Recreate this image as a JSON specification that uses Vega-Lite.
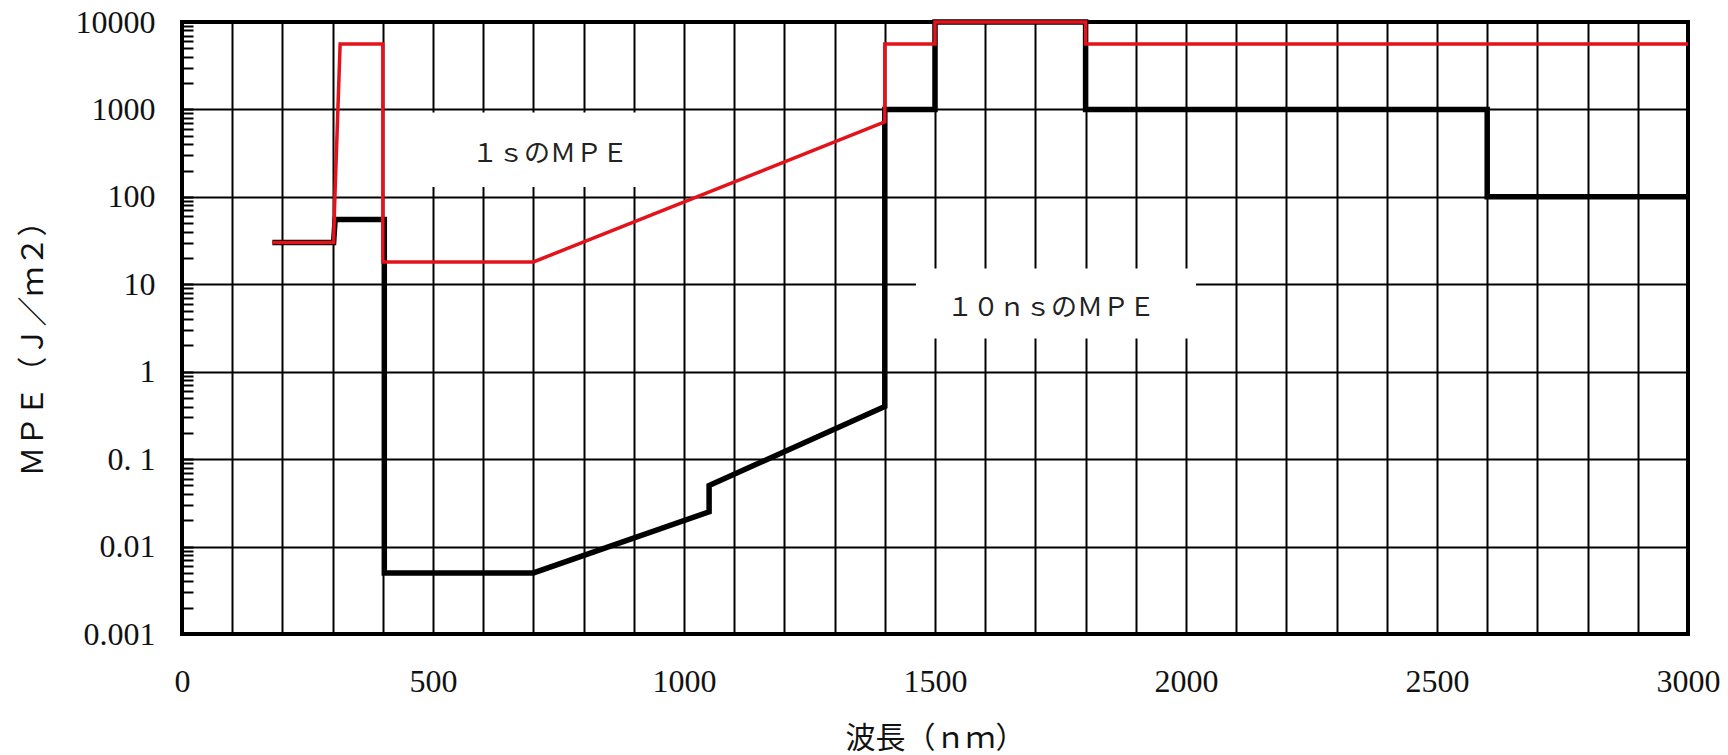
{
  "$schema": "https://vega.github.io/schema/vega-lite/v6.json",
  "width": 1506,
  "height": 612,
  "autosize": {"type": "none"},
  "padding": {"left": 182, "top": 22, "right": 40, "bottom": 121},
  "background": "white",
  "config": {
    "view": {"stroke": "black", "strokeWidth": 4},
    "axis": {"gridColor": "black", "gridWidth": 2, "gridOpacity": 1, "domain": false, "labelColor": "#111", "titleColor": "#111", "labelOverlap": false, "labelBound": false, "labelFlush": false}
  },
  "datasets": {
    "boxes": [
      {"x": 455, "x2": 955, "y": 130, "y2": 920},
      {"x": 1462, "x2": 2020, "y": 2.4, "y2": 15.2}
    ],
    "black": [
      {"i": 1, "x": 180, "y": 30},
      {"i": 2, "x": 302, "y": 30},
      {"i": 3, "x": 305, "y": 55},
      {"i": 4, "x": 403, "y": 55},
      {"i": 5, "x": 403, "y": 0.005},
      {"i": 6, "x": 700, "y": 0.005},
      {"i": 7, "x": 1050, "y": 0.025},
      {"i": 8, "x": 1050, "y": 0.05},
      {"i": 9, "x": 1400, "y": 0.4},
      {"i": 10, "x": 1400, "y": 1000},
      {"i": 11, "x": 1500, "y": 1000},
      {"i": 12, "x": 1500, "y": 10000},
      {"i": 13, "x": 1800, "y": 10000},
      {"i": 14, "x": 1800, "y": 1000},
      {"i": 15, "x": 2600, "y": 1000},
      {"i": 16, "x": 2600, "y": 100},
      {"i": 17, "x": 3000, "y": 100}
    ],
    "red": [
      {"i": 1, "x": 180, "y": 30},
      {"i": 2, "x": 302, "y": 30},
      {"i": 3, "x": 304, "y": 80},
      {"i": 4, "x": 315, "y": 5600},
      {"i": 5, "x": 400, "y": 5600},
      {"i": 6, "x": 400, "y": 18},
      {"i": 7, "x": 700, "y": 18},
      {"i": 8, "x": 1400, "y": 720},
      {"i": 9, "x": 1400, "y": 5600},
      {"i": 10, "x": 1500, "y": 5600},
      {"i": 11, "x": 1500, "y": 10000},
      {"i": 12, "x": 1800, "y": 10000},
      {"i": 13, "x": 1800, "y": 5600},
      {"i": 14, "x": 3000, "y": 5600}
    ],
    "labels": [
      {"x": 733, "y": 309, "text": "１ｓのＭＰＥ"},
      {"x": 1731, "y": 5.3, "text": "１０ｎｓのＭＰＥ"}
    ]
  },
  "encoding": {
    "x": {
      "field": "x",
      "type": "quantitative",
      "scale": {"domain": [0, 3000], "nice": false, "zero": false},
      "axis": {
        "values": [0,100,200,300,400,500,600,700,800,900,1000,1100,1200,1300,1400,1500,1600,1700,1800,1900,2000,2100,2200,2300,2400,2500,2600,2700,2800,2900,3000],
        "labelExpr": "datum.value % 500 == 0 ? format(datum.value, 'd') : ''",
        "ticks": false,
        "grid": true,
        "labelFont": "Liberation Serif",
        "labelFontSize": 32,
        "labelBaseline": "middle",
        "labelPadding": 47,
        "title": "波長（ｎｍ）",
        "titleFont": "Noto Sans CJK JP",
        "titleFontSize": 30,
        "titleFontWeight": "normal",
        "titleBaseline": "middle",
        "titleY": 104
      }
    },
    "y": {
      "field": "y",
      "type": "quantitative",
      "scale": {"type": "log", "domain": [0.001, 10000], "nice": false},
      "axis": {
        "values": [0.001,0.002,0.003,0.004,0.005,0.006,0.007,0.008,0.009,0.01,0.02,0.03,0.04,0.05,0.06,0.07,0.08,0.09,0.1,0.2,0.3,0.4,0.5,0.6,0.7,0.8,0.9,1,2,3,4,5,6,7,8,9,10,20,30,40,50,60,70,80,90,100,200,300,400,500,600,700,800,900,1000,2000,3000,4000,5000,6000,7000,8000,9000,10000],
        "labelExpr": "abs(log(datum.value)/LN10 - round(log(datum.value)/LN10)) < 0.000001 ? (abs(datum.value - 0.1) < 0.00000001 ? '0. 1' : format(datum.value, '~g')) : ''",
        "grid": true,
        "gridOpacity": {"condition": {"test": "abs(log(datum.value)/LN10 - round(log(datum.value)/LN10)) < 0.000001", "value": 1}, "value": 0},
        "ticks": true,
        "tickSize": -11,
        "tickWidth": 2,
        "tickColor": "black",
        "labelFont": "Liberation Serif",
        "labelFontSize": 32,
        "labelPadding": 38,
        "title": "ＭＰＥ（Ｊ／ｍ２）",
        "titleFont": "Noto Sans CJK JP",
        "titleFontSize": 30,
        "titleFontWeight": "normal",
        "titleAngle": -90,
        "titleAlign": "center",
        "titleBaseline": "middle",
        "titleX": -149,
        "titleY": 319
      }
    }
  },
  "layer": [
    {
      "data": {"name": "boxes"},
      "mark": {"type": "rect", "fill": "white", "stroke": null},
      "encoding": {"x2": {"field": "x2"}, "y2": {"field": "y2"}}
    },
    {
      "data": {"name": "black"},
      "mark": {"type": "line", "color": "black", "strokeWidth": 5.5, "strokeJoin": "miter", "strokeCap": "butt"},
      "encoding": {"order": {"field": "i", "type": "quantitative"}}
    },
    {
      "data": {"name": "red"},
      "mark": {"type": "line", "color": "#e3121b", "strokeWidth": 3.5, "strokeJoin": "miter", "strokeCap": "butt"},
      "encoding": {"order": {"field": "i", "type": "quantitative"}}
    },
    {
      "data": {"name": "labels"},
      "mark": {"type": "text", "font": "Noto Sans CJK JP", "fontSize": 26, "color": "#222", "align": "center", "baseline": "middle"},
      "encoding": {"text": {"field": "text"}}
    }
  ]
}
